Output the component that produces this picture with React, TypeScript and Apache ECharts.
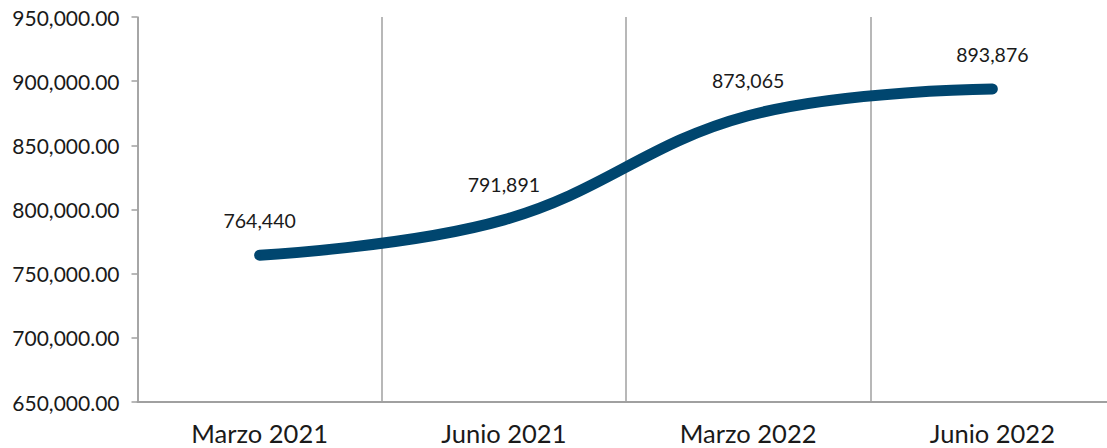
import React, { useEffect, useRef } from "react";
import * as echarts from "echarts";

const categories = ["Marzo 2021", "Junio 2021", "Marzo 2022", "Junio 2022"];
const values = [764440, 791891, 873065, 893876];
const yMin = 650000;
const yMax = 950000;
const yInterval = 50000;

const FONT = "Lato, 'Noto Sans', sans-serif";

export default function App() {
  const ref = useRef<HTMLDivElement>(null);
  useEffect(() => {
    if (!ref.current) return;
    const chart = echarts.init(ref.current, undefined, { renderer: "svg" });
    chart.setOption({
      animation: false,
      backgroundColor: "#ffffff",
      grid: {
        left: 137.5,
        width: 977,
        top: 17,
        height: 385,
        outerBoundsMode: "none",
        containLabel: false,
      },
      xAxis: {
        type: "category",
        data: categories,
        boundaryGap: true,
        axisLine: { show: true, lineStyle: { color: "#a0a0a0", width: 2 } },
        axisTick: { show: false },
        splitLine: { show: true, lineStyle: { color: "#a0a0a0", width: 1.5 } },
        axisLabel: {
          color: "#1a1a1a",
          fontSize: 25.5,
          fontFamily: FONT,
          margin: 18,
          interval: 0,
        },
      },
      yAxis: {
        type: "value",
        min: yMin,
        max: yMax,
        interval: yInterval,
        axisLine: { show: true, lineStyle: { color: "#a0a0a0", width: 1.5 } },
        axisTick: { show: true, length: 6, lineStyle: { color: "#a0a0a0", width: 1.5 } },
        splitLine: { show: false },
        axisLabel: {
          color: "#1a1a1a",
          fontSize: 21,
          fontFamily: FONT,
          margin: 18,
          formatter: (v: number) =>
            v.toLocaleString("en-US", { minimumFractionDigits: 2, maximumFractionDigits: 2 }),
        },
      },
      series: [
        {
          type: "line",
          data: values,
          smooth: 0.4,
          symbol: "circle",
          symbolSize: 2,
          showSymbol: true,
          itemStyle: { color: "#00466f" },
          lineStyle: { color: "#00466f", width: 11, cap: "round", join: "round" },
          label: {
            show: true,
            position: "top",
            distance: 24,
            color: "#1a1a1a",
            fontSize: 19.5,
            fontFamily: FONT,
            formatter: (p: any) => (p.value as number).toLocaleString("en-US"),
          },
        },
      ],
    });
    return () => chart.dispose();
  }, []);
  return (
    <div
      ref={ref}
      style={{ position: "absolute", left: 0, top: 0, width: 1107, height: 448 }}
    />
  );
}
